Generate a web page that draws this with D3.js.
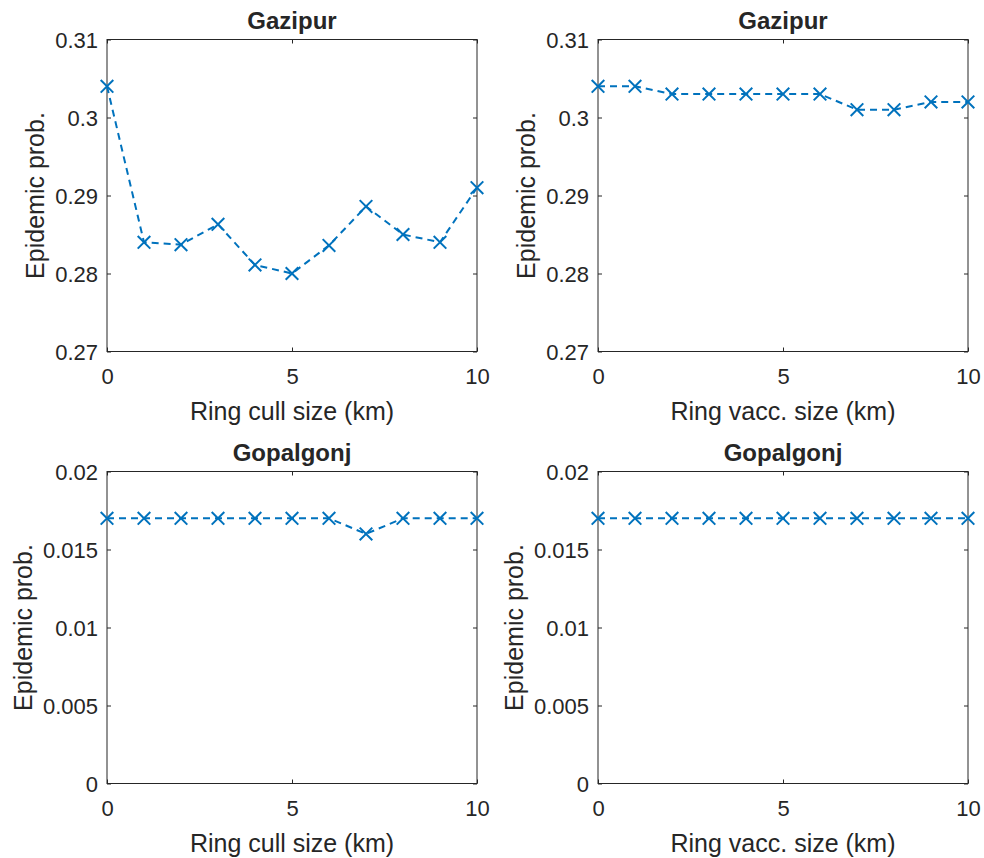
<!DOCTYPE html>
<html>
<head>
<meta charset="utf-8">
<script src="https://cdn.jsdelivr.net/npm/d3@7/dist/d3.min.js"></script>
<style>
  html, body { margin: 0; padding: 0; background: #fff; }
  svg text { font-family: "Liberation Sans", Arial, Helvetica, sans-serif; fill: #262626; }
</style>
</head>
<body>
<svg id="chart" width="984" height="858"></svg>
<script>
// Ring sizes (km) on the x axis
const ringSizes = [0, 1, 2, 3, 4, 5, 6, 7, 8, 9, 10];

// Epidemic probability per ring size
const gazipurCull   = [0.3040, 0.2840, 0.2837, 0.2863, 0.2811, 0.2800, 0.2836, 0.2886, 0.2850, 0.2840, 0.2910];
const gazipurVacc   = [0.304, 0.304, 0.303, 0.303, 0.303, 0.303, 0.303, 0.301, 0.301, 0.302, 0.302];
const gopalgonjCull = [0.017, 0.017, 0.017, 0.017, 0.017, 0.017, 0.017, 0.016, 0.017, 0.017, 0.017];
const gopalgonjVacc = [0.017, 0.017, 0.017, 0.017, 0.017, 0.017, 0.017, 0.017, 0.017, 0.017, 0.017];

// Axis ticks and their labels
const xTicks = [0, 5, 10];
const gazipurTicks = [0.27, 0.28, 0.29, 0.30, 0.31];
const gazipurTickLabels = ["0.27", "0.28", "0.29", "0.3", "0.31"];
const gopalgonjTicks = [0, 0.005, 0.01, 0.015, 0.02];
const gopalgonjTickLabels = ["0", "0.005", "0.01", "0.015", "0.02"];

const panels = [
  { title: "Gazipur",   xLabel: "Ring cull size (km)",  values: gazipurCull,   yTicks: gazipurTicks,   yLabels: gazipurTickLabels,   left: 107, top: 39.5 },
  { title: "Gazipur",   xLabel: "Ring vacc. size (km)", values: gazipurVacc,   yTicks: gazipurTicks,   yLabels: gazipurTickLabels,   left: 598, top: 39.5 },
  { title: "Gopalgonj", xLabel: "Ring cull size (km)",  values: gopalgonjCull, yTicks: gopalgonjTicks, yLabels: gopalgonjTickLabels, left: 107, top: 471.5 },
  { title: "Gopalgonj", xLabel: "Ring vacc. size (km)", values: gopalgonjVacc, yTicks: gopalgonjTicks, yLabels: gopalgonjTickLabels, left: 598, top: 471.5 }
];

const W = 370, H = 312;
const axisColor = "#262626";
const lineColor = "#0072BD";
const tickFont = 22, labelFont = 25, titleFont = 24;

const svg = d3.select("#chart");

panels.forEach(p => {
  const g = svg.append("g").attr("transform", `translate(${p.left},${p.top})`);
  const x = d3.scaleLinear().domain([0, 10]).range([0, W]);
  const yDomain = d3.extent(p.yTicks);
  const y = d3.scaleLinear().domain(yDomain).range([H, 0]);

  // axis box
  g.append("rect").attr("x", 0).attr("y", 0).attr("width", W).attr("height", H)
    .attr("fill", "none").attr("stroke", axisColor).attr("stroke-width", 1);

  // bottom axis with inward ticks
  const xa = g.append("g").attr("transform", `translate(0,${H})`)
    .call(d3.axisBottom(x).tickValues(xTicks).tickFormat(d3.format("d")).tickSizeInner(-4).tickSizeOuter(0).tickPadding(16.5));
  // left axis
  const ya = g.append("g")
    .call(d3.axisLeft(y).tickValues(p.yTicks).tickFormat((d, i) => p.yLabels[i]).tickSizeInner(-4).tickSizeOuter(0).tickPadding(9));
  // mirrored ticks on top and right
  const xt = g.append("g")
    .call(d3.axisTop(x).tickValues(xTicks).tickFormat("").tickSizeInner(-4).tickSizeOuter(0));
  const yr = g.append("g").attr("transform", `translate(${W},0)`)
    .call(d3.axisRight(y).tickValues(p.yTicks).tickFormat("").tickSizeInner(-4).tickSizeOuter(0));

  [xa, ya, xt, yr].forEach(a => {
    a.select(".domain").remove();
    a.selectAll(".tick line").attr("stroke", axisColor);
    a.selectAll(".tick text").attr("font-size", tickFont).attr("fill", axisColor)
      .style("font-family", '"Liberation Sans", Arial, Helvetica, sans-serif');
  });
  ya.selectAll(".tick text").attr("dy", "0.35em");

  // widest y tick label decides where the y label goes
  let maxW = 0;
  ya.selectAll(".tick text").each(function () { maxW = Math.max(maxW, this.getComputedTextLength()); });

  // title
  g.append("text").attr("x", W / 2).attr("y", -11).attr("text-anchor", "middle")
    .attr("font-size", titleFont).attr("font-weight", "bold").attr("fill", "#000").text(p.title);

  // x label
  g.append("text").attr("x", W / 2).attr("y", H + 68).attr("text-anchor", "middle")
    .attr("font-size", labelFont).text(p.xLabel);

  // y label
  g.append("text")
    .attr("transform", `translate(${-9 - maxW - 11},${H / 2}) rotate(-90)`)
    .attr("text-anchor", "middle").attr("font-size", labelFont).text("Epidemic prob.");

  const pts = ringSizes.map((r, i) => [x(r), y(p.values[i])]);

  // dashed line
  g.append("path").attr("d", d3.line()(pts)).attr("fill", "none")
    .attr("stroke", lineColor).attr("stroke-width", 2).attr("stroke-dasharray", "7,5");

  // x markers
  const s = 6.3;
  g.selectAll(".mk").data(pts).enter().append("path")
    .attr("d", d => `M${d[0] - s},${d[1] - s}L${d[0] + s},${d[1] + s}M${d[0] - s},${d[1] + s}L${d[0] + s},${d[1] - s}`)
    .attr("stroke", lineColor).attr("stroke-width", 2).attr("fill", "none");
});
</script>
</body>
</html>
